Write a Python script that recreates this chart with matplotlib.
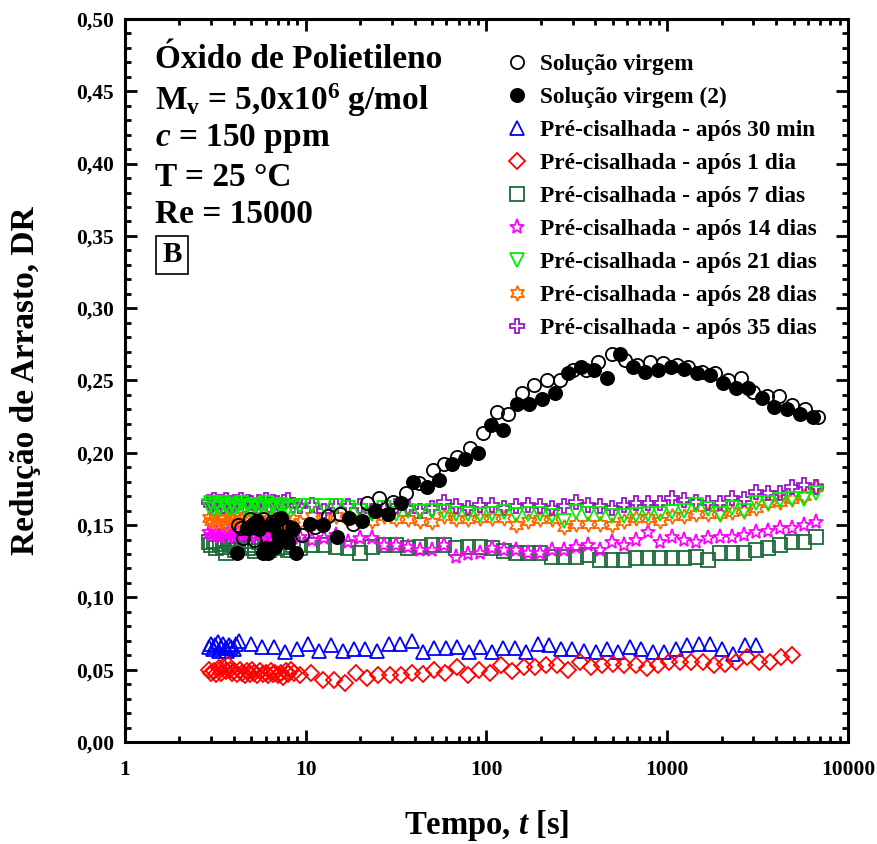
import matplotlib
matplotlib.use('Agg')
import matplotlib.pyplot as plt
from matplotlib.ticker import FixedLocator, LogLocator, MultipleLocator, NullFormatter

plt.rcParams['font.family'] = ['Liberation Serif', 'DejaVu Serif']
plt.rcParams['font.weight'] = 'bold'
plt.rcParams['mathtext.fontset'] = 'custom'
plt.rcParams['mathtext.rm'] = 'Liberation Serif:bold'
plt.rcParams['mathtext.it'] = 'Liberation Serif:italic:bold'
plt.rcParams['mathtext.bf'] = 'Liberation Serif:bold'

# ---- data ----
# solucao virgem (open circles)
t_open = [4.2, 4.4, 4.5, 4.9, 5.2, 5.5, 5.8, 6.1, 6.5, 7.0, 7.4, 7.8, 8.1, 8.5,
          9.54, 11.3, 13.3, 15.5, 18.3, 21.8, 25.4, 30.4, 35.9, 42.4, 50.6, 58.3, 68.8,
          81.1, 95.8, 114, 132, 157, 183, 217, 255, 302, 356, 415, 496, 585, 681, 804,
          949, 1134, 1306, 1560, 1841, 2173, 2564, 2988, 3572, 4163, 4912, 5797, 6841]
dr_open = [0.150, 0.148, 0.141, 0.154, 0.140, 0.147, 0.154, 0.142, 0.152, 0.154, 0.151, 0.147, 0.149, 0.147,
           0.143, 0.149, 0.156, 0.158, 0.151, 0.165, 0.169, 0.166, 0.172, 0.179, 0.188, 0.192, 0.197,
           0.203, 0.214, 0.228, 0.227, 0.241, 0.247, 0.250, 0.250, 0.257, 0.257, 0.263, 0.268, 0.264,
           0.261, 0.263, 0.262, 0.261, 0.259, 0.256, 0.255, 0.250, 0.252, 0.242, 0.239, 0.239, 0.233,
           0.230, 0.225]

# solucao virgem (2) (filled circles)
t_fill = [4.17, 4.73, 5.1, 5.38, 5.58, 5.8, 6.03, 6.19, 6.5, 6.77, 7.0, 7.3, 7.6, 7.98, 8.4, 8.8,
          10.6, 12.5, 14.9, 17.4, 20.5, 24.2, 28.5, 33.7, 39.3, 46.9, 54.7, 64.5, 76.1, 89.8,
          106, 124, 148, 172, 203, 240, 283, 334, 394, 465, 549, 648, 755, 891, 1051, 1240,
          1464, 1728, 2039, 2406, 2804, 3351, 3906, 4608, 5439, 6419]
dr_fill = [0.131, 0.148, 0.151, 0.153, 0.149, 0.131, 0.134, 0.131, 0.150, 0.135, 0.143, 0.155, 0.140, 0.138, 0.148, 0.131,
           0.151, 0.150, 0.142, 0.155, 0.153, 0.160, 0.158, 0.165, 0.180, 0.176, 0.181, 0.192, 0.196, 0.200,
           0.219, 0.216, 0.234, 0.234, 0.237, 0.241, 0.255, 0.259, 0.257, 0.252, 0.268, 0.259, 0.256, 0.257,
           0.259, 0.258, 0.255, 0.254, 0.248, 0.245, 0.245, 0.238, 0.232, 0.230, 0.227, 0.225]

# 30 min (triangles up)
t_30min = [2.9, 3.0, 3.05, 3.15, 3.25, 3.3, 3.4, 3.5, 3.6, 3.65, 3.75, 3.85, 4.0, 4.1,
           4.27, 4.95, 5.73, 6.63, 7.68, 8.89, 10.3, 11.9, 13.8, 16.0, 18.5, 21.4, 24.8, 28.7,
           33.2, 38.5, 44.5, 51.5, 59.7, 69.1, 80.0, 92.6, 107, 124, 144, 166, 193, 223, 258,
           299, 346, 401, 464, 537, 622, 720, 833, 964, 1117, 1292, 1496, 1733, 2005, 2322,
           2687, 3111]
dr_30min = [0.066, 0.068, 0.064, 0.067, 0.069, 0.063, 0.066, 0.068, 0.065, 0.063, 0.067, 0.066, 0.064, 0.068,
            0.070, 0.068, 0.066, 0.066, 0.062, 0.064, 0.068, 0.063, 0.067, 0.063, 0.064, 0.064, 0.063, 0.068,
            0.068, 0.070, 0.062, 0.065, 0.065, 0.066, 0.062, 0.066, 0.062, 0.065, 0.065, 0.062, 0.068, 0.067,
            0.064, 0.064, 0.063, 0.062, 0.064, 0.062, 0.066, 0.064, 0.062, 0.062, 0.064, 0.067, 0.068, 0.068,
            0.064, 0.061, 0.067, 0.067]

# 1 dia (diamonds)
t_1dia = [2.9, 3.0, 3.1, 3.2, 3.3, 3.4, 3.5, 3.6, 3.7, 3.8, 3.9, 4.0, 4.15, 4.3, 4.45, 4.6, 4.75, 4.9,
          5.05, 5.2, 5.4, 5.6, 5.8, 6.0, 6.2, 6.4, 6.6, 6.8, 7.0, 7.25, 7.5, 7.75, 8.0, 8.3, 8.6,
          9.30, 10.7, 12.4, 14.3, 16.4, 19.0, 21.9, 25.2, 29.1, 33.5, 38.7, 44.6, 51.4, 59.3, 68.3,
          78.8, 90.9, 105, 121, 139, 161, 185, 214, 246, 284, 328, 378, 436, 502, 579, 668, 770,
          888, 1024, 1181, 1361, 1570, 1810, 2087, 2407, 2776, 3201, 3691, 4256, 4908]
dr_1dia = [0.050, 0.048, 0.049, 0.047, 0.051, 0.048, 0.052, 0.049, 0.053, 0.050, 0.048, 0.049, 0.047, 0.050,
           0.048, 0.046, 0.049, 0.047, 0.050, 0.048, 0.046, 0.049, 0.047, 0.048, 0.046, 0.049, 0.047, 0.048,
           0.046, 0.048, 0.045, 0.049, 0.047, 0.050, 0.048,
           0.046, 0.048, 0.043, 0.043, 0.041, 0.048, 0.044, 0.046, 0.046, 0.046, 0.048, 0.047, 0.050, 0.048,
           0.052, 0.046, 0.050, 0.048, 0.053, 0.049, 0.052, 0.052, 0.053, 0.053, 0.050, 0.055, 0.052, 0.053,
           0.054, 0.053, 0.053, 0.051, 0.053, 0.055, 0.055, 0.055, 0.055, 0.053, 0.054, 0.055, 0.059, 0.055,
           0.055, 0.059, 0.060]

# shared times for the 7-35 day series
t_aged = [2.9, 3.0, 3.1, 3.2, 3.35, 3.5, 3.6, 3.75, 3.9, 4.05, 4.2, 4.4, 4.6, 4.8, 5.0, 5.25, 5.5,
          5.75, 6.0, 6.3, 6.6, 6.9, 7.2, 7.6, 8.0, 8.5,
          9.30, 10.8, 12.6, 14.7, 17.1, 20.0, 23.3, 27.1, 31.6, 36.8, 42.9, 50.0, 58.3, 67.9, 79.1,
          92.2, 107, 125, 146, 170, 198, 231, 269, 313, 365, 425, 496, 578, 673, 784, 914, 1065,
          1241, 1446, 1684, 1963, 2287, 2665, 3105, 3618, 4215, 4913, 5726, 6672]

dr_7dias = [0.138, 0.136, 0.139, 0.134, 0.137, 0.135, 0.131, 0.138, 0.136, 0.133, 0.137, 0.135, 0.139,
            0.134, 0.136, 0.132, 0.138, 0.135, 0.137, 0.133, 0.136, 0.134, 0.138, 0.135, 0.133, 0.136,
            0.134, 0.136, 0.136, 0.135, 0.134, 0.131, 0.135, 0.136, 0.136, 0.134, 0.135, 0.136, 0.136,
            0.134, 0.135, 0.135, 0.134, 0.132, 0.131, 0.131, 0.131, 0.128, 0.128, 0.128, 0.129, 0.126,
            0.126, 0.126, 0.127, 0.127, 0.127, 0.127, 0.127, 0.128, 0.126, 0.131, 0.131, 0.131, 0.133,
            0.134, 0.136, 0.138, 0.138, 0.142]
dr_14dias = [0.145, 0.143, 0.146, 0.144, 0.142, 0.145, 0.143, 0.146, 0.144, 0.142, 0.145, 0.144, 0.143,
             0.145, 0.142, 0.144, 0.146, 0.143, 0.145, 0.142, 0.144, 0.143, 0.145, 0.142, 0.144, 0.141,
             0.142, 0.140, 0.141, 0.143, 0.138, 0.141, 0.141, 0.136, 0.136, 0.135, 0.133, 0.133, 0.136,
             0.128, 0.130, 0.131, 0.134, 0.133, 0.133, 0.131, 0.131, 0.133, 0.133, 0.135, 0.136, 0.133,
             0.138, 0.136, 0.140, 0.145, 0.138, 0.142, 0.140, 0.138, 0.141, 0.142, 0.142, 0.143, 0.145,
             0.146, 0.148, 0.148, 0.150, 0.152]
dr_21dias = [0.163, 0.165, 0.161, 0.164, 0.162, 0.165, 0.163, 0.161, 0.164, 0.162, 0.163, 0.165, 0.162,
             0.163, 0.161, 0.164, 0.162, 0.163, 0.165, 0.161, 0.163, 0.162, 0.164, 0.163, 0.161, 0.162,
             0.163, 0.163, 0.163, 0.163, 0.162, 0.160, 0.158, 0.162, 0.158, 0.160, 0.159, 0.160, 0.159,
             0.158, 0.158, 0.157, 0.158, 0.159, 0.157, 0.158, 0.158, 0.156, 0.153, 0.159, 0.158, 0.158,
             0.156, 0.156, 0.157, 0.158, 0.158, 0.159, 0.160, 0.164, 0.161, 0.158, 0.162, 0.160, 0.165,
             0.165, 0.167, 0.168, 0.168, 0.172]
dr_28dias = [0.155, 0.153, 0.156, 0.152, 0.155, 0.154, 0.151, 0.155, 0.153, 0.156, 0.152, 0.154, 0.155,
             0.153, 0.151, 0.155, 0.154, 0.152, 0.156, 0.153, 0.154, 0.152, 0.155, 0.153, 0.151, 0.154,
             0.152, 0.156, 0.155, 0.156, 0.155, 0.154, 0.153, 0.156, 0.154, 0.154, 0.153, 0.152, 0.156,
             0.154, 0.154, 0.155, 0.155, 0.155, 0.150, 0.153, 0.154, 0.154, 0.149, 0.151, 0.151, 0.151,
             0.150, 0.153, 0.155, 0.155, 0.153, 0.156, 0.156, 0.158, 0.158, 0.158, 0.159, 0.160, 0.162,
             0.165, 0.166, 0.168, 0.170, 0.176]
dr_35dias = [0.166, 0.164, 0.167, 0.165, 0.166, 0.163, 0.167, 0.165, 0.164, 0.166, 0.165, 0.167, 0.164,
             0.166, 0.165, 0.163, 0.166, 0.165, 0.167, 0.164, 0.166, 0.165, 0.163, 0.166, 0.167, 0.164,
             0.163, 0.164, 0.160, 0.163, 0.163, 0.163, 0.160, 0.162, 0.163, 0.162, 0.160, 0.162, 0.166,
             0.163, 0.162, 0.164, 0.164, 0.162, 0.163, 0.164, 0.163, 0.162, 0.163, 0.166, 0.164, 0.163,
             0.162, 0.164, 0.165, 0.165, 0.165, 0.169, 0.167, 0.166, 0.165, 0.165, 0.169, 0.168, 0.173,
             0.172, 0.172, 0.176, 0.178, 0.176]

labels = ['Solução virgem', 'Solução virgem (2)', 'Pré-cisalhada - após 30 min',
          'Pré-cisalhada - após 1 dia', 'Pré-cisalhada - após 7 dias',
          'Pré-cisalhada - após 14 dias', 'Pré-cisalhada - após 21 dias',
          'Pré-cisalhada - após 28 dias', 'Pré-cisalhada - após 35 dias']

fig = plt.figure(figsize=(8.78, 8.44), dpi=100)
ax = fig.add_axes([0.1424, 0.1209, 0.8234, 0.8566])

ms = 9.5
mew = 1.3
# (t, dr, marker, color, filled, zorder)
series = [
    (t_open, dr_open, 'o', 'black', False, 6),
    (t_fill, dr_fill, 'o', 'black', True, 7),
    (t_30min, dr_30min, '^', '#0000ff', False, 3),
    (t_1dia, dr_1dia, 'D', '#ff0000', False, 3),
    (t_aged, dr_7dias, 's', '#1b6b3a', False, 1),
    (t_aged, dr_14dias, '*', '#ff00ff', False, 2),
    (t_aged, dr_21dias, 'v', '#00ee00', False, 5),
    (t_aged, dr_28dias, (6, 1, 0), '#ff6600', False, 3),
    (t_aged, dr_35dias, 'P', '#9a16c8', False, 4),
]
for (t, dr, mk, col, filled, z), lab in zip(series, labels):
    size = ms
    if mk == 'D':
        size = ms - 1.5
    if mk == '*' or mk == (6, 1, 0):
        size = ms + 1.5
    ax.plot(t, dr, linestyle='none', marker=mk, markersize=size, markeredgewidth=mew,
            markeredgecolor=col, markerfacecolor=col if filled else 'none',
            label=lab, zorder=z)

ax.set_xscale('log')
ax.set_xlim(1, 10000)
ax.set_ylim(0, 0.5)

ax.xaxis.set_major_locator(FixedLocator([1, 10, 100, 1000, 10000]))
ax.xaxis.set_minor_locator(LogLocator(base=10, subs=range(2, 10), numticks=20))
ax.xaxis.set_minor_formatter(NullFormatter())
ax.set_xticklabels(['1', '10', '100', '1000', '10000'])

ax.yaxis.set_major_locator(MultipleLocator(0.05))
ax.yaxis.set_minor_locator(MultipleLocator(0.01))
ax.set_yticks([i * 0.05 for i in range(11)])
ax.set_yticklabels([('%.2f' % (i * 0.05)).replace('.', ',') for i in range(11)])

ax.tick_params(which='both', direction='in', top=True, right=True, width=2,
               labelsize=15.5)
ax.tick_params(which='major', length=8.6)
ax.tick_params(which='minor', length=4.5)
ax.tick_params(axis='y', pad=8)
ax.tick_params(axis='x', pad=13)
for lab in ax.get_xticklabels() + ax.get_yticklabels():
    lab.set_fontweight('bold')
for sp in ax.spines.values():
    sp.set_linewidth(2.2)

ax.set_xlabel('Tempo, $t$ [s]', fontsize=23.5, fontweight='bold')
ax.set_ylabel('Redução de Arrasto, DR', fontsize=24, fontweight='bold')
ax.xaxis.set_label_coords(0.5, -0.092)
ax.yaxis.set_label_coords(-0.116, 0.5)

# annotation block, top left
info = ['Óxido de Polietileno', 'M$_\\mathrm{v}$ = 5,0x10$^\\mathrm{6}$ g/mol',
        '$c$ = 150 ppm', 'T = 25 °C', 'Re = 15000']
ypix = [60, 100, 139, 178, 215]
for txt, yp in zip(info, ypix):
    ax.text(0.0415, 1 - (yp - 19) / 723, txt, transform=ax.transAxes, fontsize=24,
            fontweight='bold', va='center', ha='left')
ax.text(0.065, 1 - (255 - 19) / 723, 'B', transform=ax.transAxes, fontsize=21,
        fontweight='bold', va='center', ha='center',
        bbox=dict(boxstyle='square,pad=0.2', fc='white', ec='black', lw=1.2))

ax.legend(loc='upper left', bbox_to_anchor=(0.510, 0.968), frameon=False,
          prop={'size': 16.8, 'weight': 'bold'}, numpoints=1, handlelength=1.0,
          handletextpad=0.5, labelspacing=0.5, borderpad=0)

fig.savefig('out.png', dpi=100)
